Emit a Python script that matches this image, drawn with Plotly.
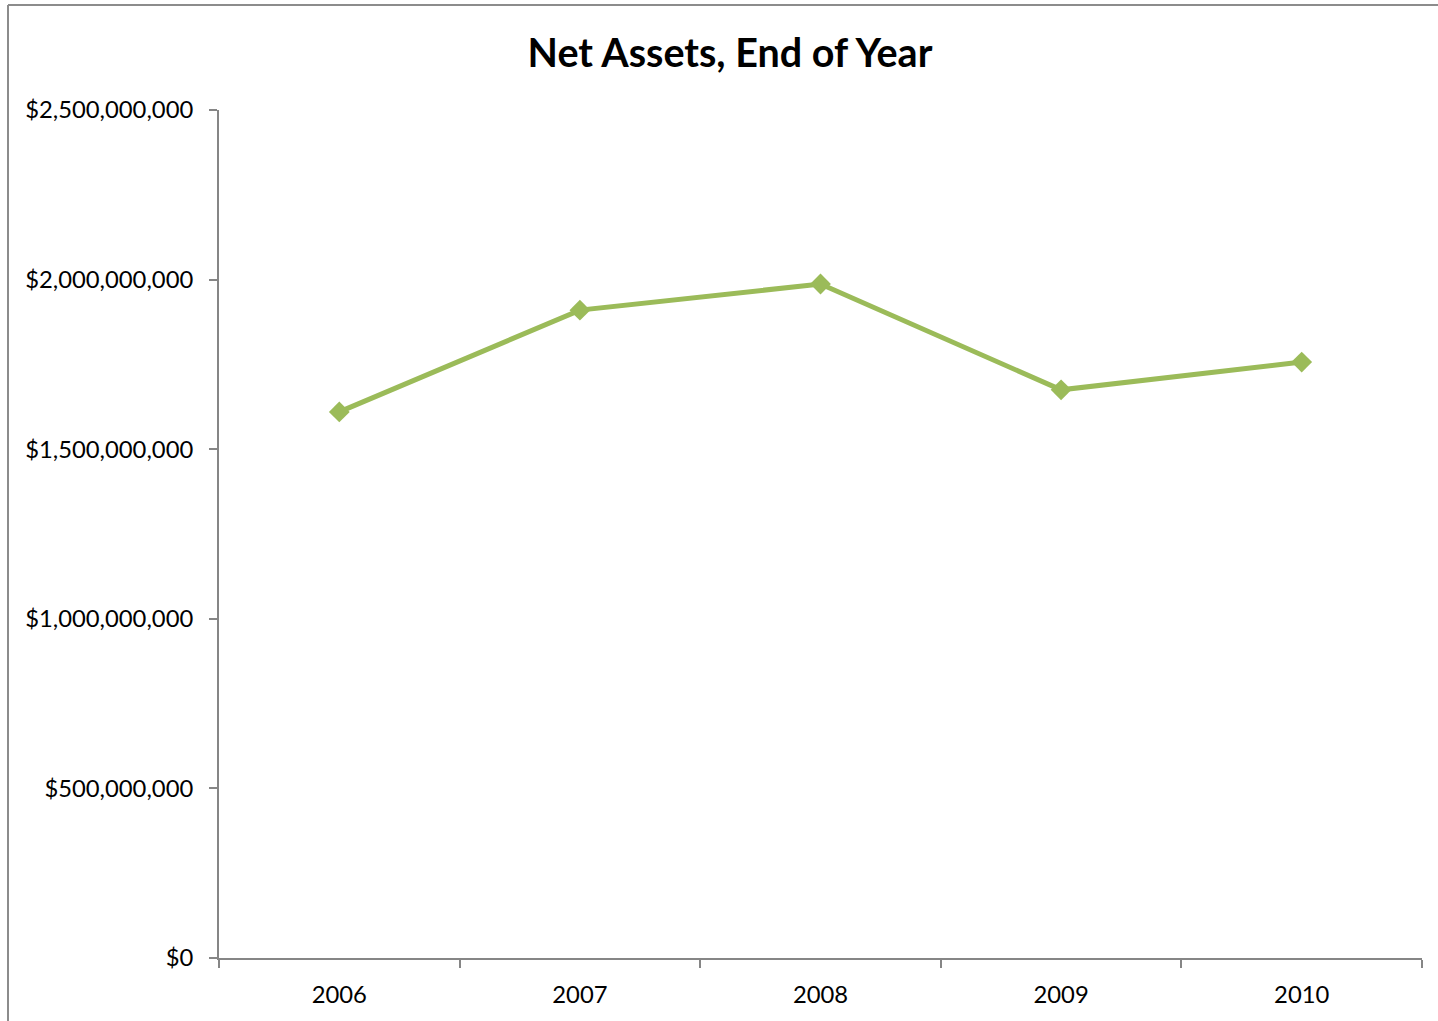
import plotly.graph_objects as go

years = ["2006", "2007", "2008", "2009", "2010"]
net_assets = [1610000000, 1910000000, 1987000000, 1675000000, 1757000000]
y_ticks = [0, 500000000, 1000000000, 1500000000, 2000000000, 2500000000]

W, H = 1438, 1021
L, R, T, B = 219, 16, 110, 63
pw, ph = W - L - R, H - T - B

def px_x(p):
    return (p - L) / pw

def px_y(p):
    return (H - B - p) / ph

fig = go.Figure()
fig.add_trace(go.Scatter(
    x=years, y=net_assets, mode="lines+markers",
    line=dict(color="#9BBB59", width=5),
    marker=dict(symbol="diamond", size=16, color="#9BBB59"),
    showlegend=False,
))

font_family = "Lato, 'Open Sans', sans-serif"
fig.update_layout(
    width=W, height=H,
    margin=dict(l=L, r=R, t=T, b=B),
    paper_bgcolor="white", plot_bgcolor="white",
    font=dict(family=font_family, size=23.8, color="black"),
    title=dict(text="<b>Net Assets, End of Year</b>", x=730 / W, xanchor="center",
               y=1 - 53 / H, yanchor="middle", yref="container",
               font=dict(size=39.5, family=font_family, color="black")),
    xaxis=dict(type="category", range=[-0.5, 4.5], showgrid=False,
               showline=True, linecolor="#868686", linewidth=2,
               ticks="outside", tickson="boundaries", ticklen=8, tickcolor="#868686", tickwidth=1.5,
               ticklabelstandoff=14, zeroline=False),
    yaxis=dict(range=[0, 2500000000], tickvals=y_ticks, tickformat="$,.0f",
               showgrid=False, showline=True, linecolor="#868686", linewidth=2,
               ticks="outside", ticklen=8, tickcolor="#868686", tickwidth=1.5,
               ticklabelstandoff=11, zeroline=False),
    shapes=[
        dict(type="line", xref="paper", yref="paper", x0=px_x(8), x1=px_x(8), y0=px_y(5), y1=px_y(1021),
             line=dict(color="#8C8C8C", width=2)),
        dict(type="line", xref="paper", yref="paper", x0=px_x(8), x1=px_x(1438), y0=px_y(5), y1=px_y(5),
             line=dict(color="#8C8C8C", width=2)),
    ],
)

fig.write_html("out.html", config={"displayModeBar": False},
               post_script="document.body.style.margin='0';document.body.style.overflow='hidden';")
